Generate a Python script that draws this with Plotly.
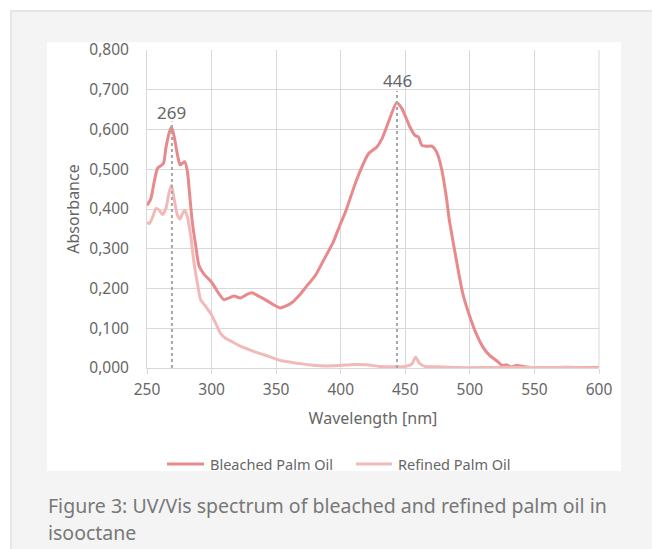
import plotly.graph_objects as go

# Bleached palm oil spectrum
bleached_wl = [250, 253, 255.6, 258.2, 260.8, 262.8, 264.6, 267.2, 269, 271, 273.6, 275.6, 277.4, 279.2,
               281.3, 283.3, 285.1, 287.7, 290.3, 294.1, 298, 301.3, 304.4, 309.5, 313.3, 317.2, 322.3,
               327.4, 331.3, 336.4, 341.5, 348, 353.1, 356.9, 362, 368.5, 373.6, 380, 386.4, 394.1, 399.2,
               403.5, 412.5, 421.5, 428, 432, 437, 443.3, 447.3, 453.5, 457.5, 460.2, 462.8, 466.7, 470.5,
               474.3, 478.1, 482, 484, 485.8, 489.5, 494.5, 500, 505, 510.3, 515.5, 520.5, 525.5, 528.1,
               532, 536, 545.5, 560, 575, 590, 600]
bleached_abs = [0.409, 0.426, 0.469, 0.503, 0.509, 0.515, 0.553, 0.592, 0.606, 0.583, 0.536, 0.511, 0.515, 0.519,
                0.494, 0.426, 0.367, 0.308, 0.257, 0.236, 0.223, 0.210, 0.193, 0.172, 0.176, 0.181, 0.176,
                0.185, 0.189, 0.181, 0.172, 0.159, 0.151, 0.155, 0.164, 0.185, 0.206, 0.231, 0.269, 0.316, 0.358,
                0.391, 0.475, 0.539, 0.556, 0.577, 0.619, 0.667, 0.653, 0.607, 0.585, 0.581, 0.560, 0.558, 0.558,
                0.543, 0.501, 0.425, 0.374, 0.340, 0.272, 0.188, 0.129, 0.086, 0.052, 0.031, 0.019, 0.006, 0.008,
                0.003, 0.006, 0.002, 0.001, 0.002, 0.001, 0.001]

# Refined palm oil spectrum
refined_wl = [250, 251.8, 254.4, 256.9, 259.5, 262, 264.6, 267.2, 269, 271, 273.6, 275.6, 277.4, 279.2,
              281.3, 283.8, 286.4, 289, 291.5, 295.4, 299.2, 303.1, 306.9, 310.8, 315.9, 322.3, 330,
              337.7, 345.4, 353.1, 360.8, 368.5, 378.7, 389, 399, 410, 420, 430, 440, 450, 455, 458,
              461, 465, 475, 490, 510, 530, 550, 575, 600]
refined_abs = [0.367, 0.363, 0.380, 0.401, 0.397, 0.386, 0.401, 0.443, 0.460, 0.426, 0.384, 0.375, 0.388, 0.397,
               0.380, 0.333, 0.265, 0.214, 0.172, 0.155, 0.138, 0.113, 0.087, 0.075, 0.066, 0.055, 0.045,
               0.036, 0.028, 0.019, 0.015, 0.011, 0.007, 0.005, 0.006, 0.009, 0.008, 0.004, 0.003, 0.004, 0.010, 0.027,
               0.012, 0.004, 0.003, 0.001, 0.001, 0.002, 0.001, 0.001, 0.000]

# Peak markers (position on the axis as drawn, and the label printed above)
peak_pos = [269.3, 443.6]
peak_text = ["269", "446"]
peak_label_y = [0.644, 0.724]
peak_line_top = [0.620, 0.697]

x_ticks = [250, 300, 350, 400, 450, 500, 550, 600]
y_ticks = [0, 0.1, 0.2, 0.3, 0.4, 0.5, 0.6, 0.7, 0.8]

series_names = ["Bleached Palm Oil", "Refined Palm Oil"]
series_colors = ["#e8898b", "#f2b9b9"]

caption_lines = ["Figure 3: UV/Vis spectrum of bleached and refined palm oil in", "isooctane"]

FONT = "Noto Sans"
TXT = "#666666"
OFF = 8  # page body margin
W, H = 660 - OFF, 549 - OFF
PL, PR, PT, PB = 147, 599, 50, 368  # plot area in screenshot pixels
L, R, T, B = PL - OFF, W - (PR - OFF), PT - OFF, H - (PB - OFF)
pw, ph = W - L - R, H - T - B

def px(x):
    return (x - OFF - L) / pw

def py(y):
    return (H - B - (y - OFF)) / ph

fig = go.Figure()
for wl, ab, name, col in [(bleached_wl, bleached_abs, series_names[0], series_colors[0]),
                          (refined_wl, refined_abs, series_names[1], series_colors[1])]:
    fig.add_trace(go.Scatter(x=wl, y=ab, mode="lines", name=name, showlegend=False,
                             line=dict(color=col, width=3, shape="spline", smoothing=0.6)))

shapes = [
    dict(type="rect", xref="paper", yref="paper", x0=px(11), x1=px(653), y0=py(11), y1=py(570),
         fillcolor="#f4f4f4", line=dict(color="#e6e6e6", width=2), layer="below"),
    dict(type="rect", xref="paper", yref="paper", x0=px(47), x1=px(621), y0=py(42), y1=py(471),
         fillcolor="#ffffff", line=dict(width=0), layer="below"),
]
for wl, top in zip(peak_pos, peak_line_top):
    shapes.append(dict(type="line", xref="x", yref="y", x0=wl, x1=wl, y0=0, y1=top,
                       line=dict(color="#a6a6a6", width=2, dash="dot"), layer="above"))

annotations = []
for wl, txt, ly in zip(peak_pos, peak_text, peak_label_y):
    annotations.append(dict(x=wl, y=ly, xref="x", yref="y", text=txt, showarrow=False,
                            font=dict(family=FONT, size=17, color=TXT)))

# legend drawn by hand
legend_line_x = [(167, 204), (356, 392)]
legend_text_x = [208, 396]
LEG_Y = 464
for (x0, x1), tx, name, col in zip(legend_line_x, legend_text_x, series_names, series_colors):
    shapes.append(dict(type="line", xref="paper", yref="paper", x0=px(x0), x1=px(x1),
                       y0=py(LEG_Y), y1=py(LEG_Y), line=dict(color=col, width=3)))
    annotations.append(dict(xref="paper", yref="paper", x=px(tx), y=py(LEG_Y), xanchor="left",
                            yanchor="middle", showarrow=False, text=name,
                            font=dict(family=FONT, size=14.5, color=TXT)))

for line_txt, cy in zip(caption_lines, [505, 532]):
    annotations.append(dict(xref="paper", yref="paper", x=px(46), y=py(cy), xanchor="left", yanchor="middle",
                            showarrow=False, text=line_txt,
                            font=dict(family=FONT, size=19.5, color="#787878")))

fig.update_layout(
    width=W, height=H,
    margin=dict(l=L, r=R, t=T, b=B, pad=0),
    paper_bgcolor="#ffffff", plot_bgcolor="#ffffff",
    separators=",.",
    font=dict(family=FONT, size=15.5, color=TXT),
    shapes=shapes, annotations=annotations,
    showlegend=False,
    xaxis=dict(range=[250, 600], tickvals=x_ticks, showgrid=True, gridcolor="#d9d9d9", gridwidth=1,
               showline=True, linecolor="#d9d9d9", ticks="outside", ticklen=5, tickcolor="#d9d9d9",
               zeroline=False, ticklabelstandoff=2,
               title=dict(text="Wavelength [nm]", font=dict(size=16), standoff=14),
               tickfont=dict(size=15.5)),
    yaxis=dict(range=[0, 0.8], tickvals=y_ticks, tickformat=".3f", showgrid=True, gridcolor="#d9d9d9",
               gridwidth=1, showline=True, linecolor="#d9d9d9", zeroline=False, ticks="",
               ticklabelstandoff=14,
               title=dict(text="Absorbance", font=dict(size=16), standoff=5),
               tickfont=dict(size=15.5)),
)
fig.add_shape(type="line", xref="paper", yref="paper", x0=1, x1=1, y0=0, y1=1,
              line=dict(color="#d9d9d9", width=1))

fig.write_html("out.html")
